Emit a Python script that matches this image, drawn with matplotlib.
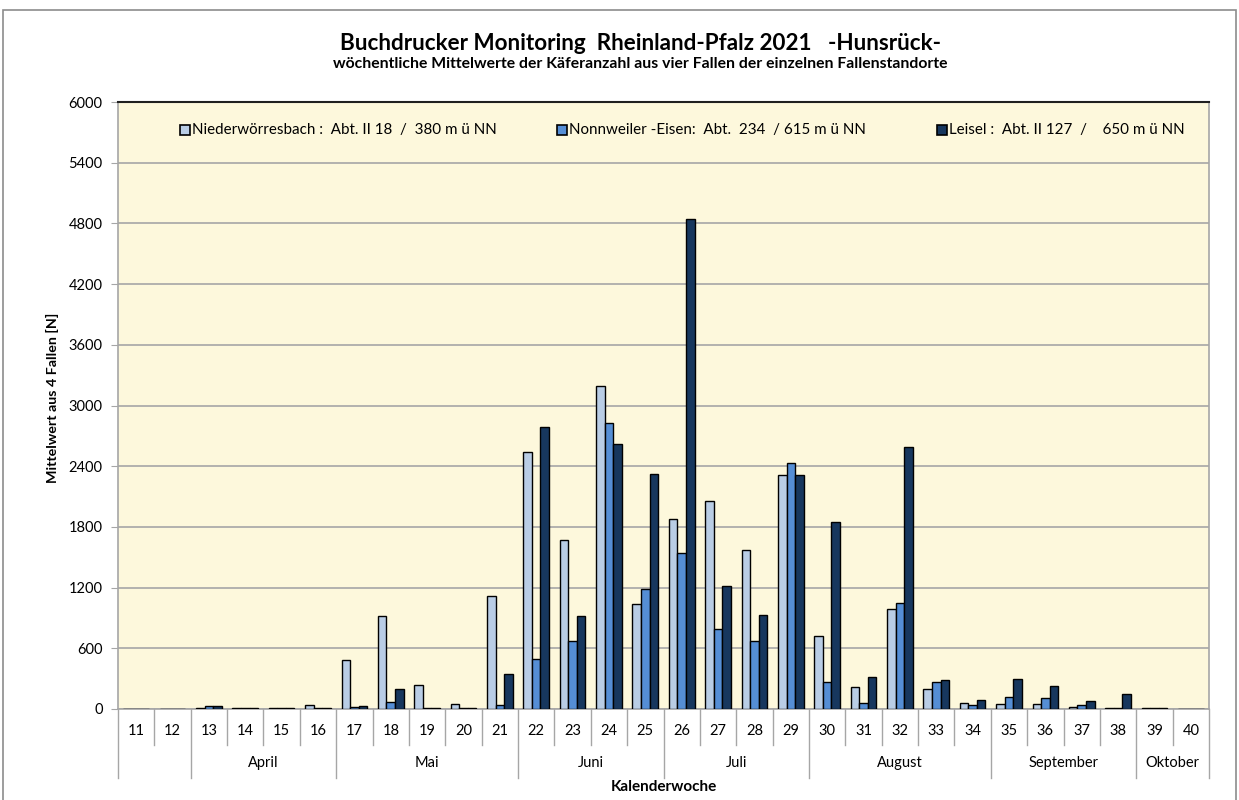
import matplotlib
matplotlib.use("Agg")
import matplotlib.pyplot as plt
import matplotlib.patches as mpatches
import matplotlib.transforms as mtransforms
import numpy as np

plt.rcParams['font.family'] = ['Lato', 'DejaVu Sans']

weeks = [str(w) for w in range(11, 41)]
niederwoerresbach = [0, 0, 10, 5, 5, 40, 480, 920, 240, 50, 1115, 2540, 1670, 3190, 1040,
                     1880, 2055, 1570, 2310, 720, 215, 985, 200, 55, 50, 45, 20, 10, 10, 0]
nonnweiler = [0, 0, 25, 5, 5, 5, 15, 70, 5, 5, 40, 495, 670, 2830, 1185,
              1540, 790, 670, 2430, 265, 55, 1045, 265, 40, 120, 105, 40, 10, 10, 0]
leisel = [0, 0, 25, 5, 5, 5, 25, 195, 5, 5, 345, 2785, 920, 2620, 2320,
          4840, 1215, 930, 2310, 1845, 320, 2590, 285, 90, 300, 230, 80, 150, 10, 0]
series_labels = ["Niederwörresbach :  Abt. II 18  /  380 m ü NN",
                 "Nonnweiler -Eisen:  Abt.  234  / 615 m ü NN",
                 "Leisel :  Abt. II 127  /    650 m ü NN"]
months = [("April", 13, 16), ("Mai", 17, 21), ("Juni", 22, 25), ("Juli", 26, 29),
          ("August", 30, 34), ("September", 35, 38), ("Oktober", 39, 40)]
yticks = list(range(0, 6001, 600))

colors = ["#B9CDE5", "#558ED5", "#17375E"]

fig = plt.figure(figsize=(12.39, 8.0), dpi=100)
ax = fig.add_axes([118/1239, 1-709/800, (1209-118)/1239, (709-102)/800])
ax.set_facecolor("#FDF8DC")

x = np.arange(len(weeks))
w = 0.235
for i, (vals, c, lab) in enumerate(zip([niederwoerresbach, nonnweiler, leisel], colors, series_labels)):
    ax.bar(x + (i - 1) * w, vals, width=w, color=c, edgecolor="black", linewidth=1.0,
           label=lab, zorder=3)

ax.set_xlim(-0.5, len(weeks) - 0.5)
ax.set_ylim(0, 6000)
ax.set_yticks(yticks)
ax.set_yticklabels([str(t) for t in yticks], fontsize=10.5)
ax.yaxis.grid(True, color="#A6A6A6", linewidth=1.2, zorder=0)
ax.set_axisbelow(True)
ax.tick_params(axis='y', direction='out', length=5, color="#A6A6A6", pad=6)
ax.set_xticks([])
for s in ['left', 'bottom', 'right']:
    ax.spines[s].set_color("#A6A6A6")
    ax.spines[s].set_linewidth(1.2)
ax.spines['top'].set_color("#202020")
ax.spines['top'].set_linewidth(1.5)

# Multi-level x axis
trans = mtransforms.blended_transform_factory(ax.transData, ax.transAxes)
h = (709-102)
row1 = -(745-709)/h
row2 = -(778-709)/h
for i in range(len(weeks)):
    ax.text(x[i], -(731-709)/h, weeks[i], transform=trans, ha='center', va='center',
            fontsize=10.5)
month_bounds = set()
for name, a, b in months:
    ia, ib = weeks.index(str(a)), weeks.index(str(b))
    month_bounds.add(ia - 0.5)
    month_bounds.add(ib + 0.5)
    ax.text((ia + ib) / 2, -(763-709)/h, name, transform=trans, ha='center', va='center',
            fontsize=10.5)
month_bounds.add(-0.5)
for b in np.arange(-0.5, len(weeks), 1.0):
    bottom = row2 if b in month_bounds else row1
    ax.plot([b, b], [0, bottom], transform=trans, color="#A6A6A6", linewidth=1.0,
            clip_on=False)

ax.text(0.5, -(787-709)/h, "Kalenderwoche", transform=ax.transAxes, ha='center',
        va='center', fontsize=11, fontweight='bold')
fig.text(52/1239, 1-398/800, "Mittelwert aus 4 Fallen [N]", rotation=90, ha='center',
         va='center', fontsize=10.3, fontweight='bold')

fig.text(641/1239, 1-43/800, "Buchdrucker Monitoring  Rheinland-Pfalz 2021   -Hunsrück-",
         ha='center', va='center', fontsize=16.2, fontweight='bold')
fig.text(640/1239, 1-64/800,
         "wöchentliche Mittelwerte der Käferanzahl aus vier Fallen der einzelnen Fallenstandorte",
         ha='center', va='center', fontsize=11.3, fontweight='bold')

# Legend
leg_x = [180, 557, 937]
for hx, c, lab in zip(leg_x, colors, series_labels):
    fig.patches.append(mpatches.Rectangle((hx/1239, 1-135/800), 10/1239, 10/800,
                                          transform=fig.transFigure, facecolor=c,
                                          edgecolor='black', linewidth=1.2, zorder=5))
    fig.text((hx+12)/1239, 1-130/800, lab, ha='left', va='center', fontsize=10.9, zorder=5)

# Outer border
fig.patches.append(mpatches.Rectangle((3/1239, -0.02), (1236-3)/1239, 1.02 - 10/800,
                                      transform=fig.transFigure, fill=False,
                                      edgecolor="#8C8C8C", linewidth=1.2))

fig.savefig("out.png", dpi=100, facecolor="white")
